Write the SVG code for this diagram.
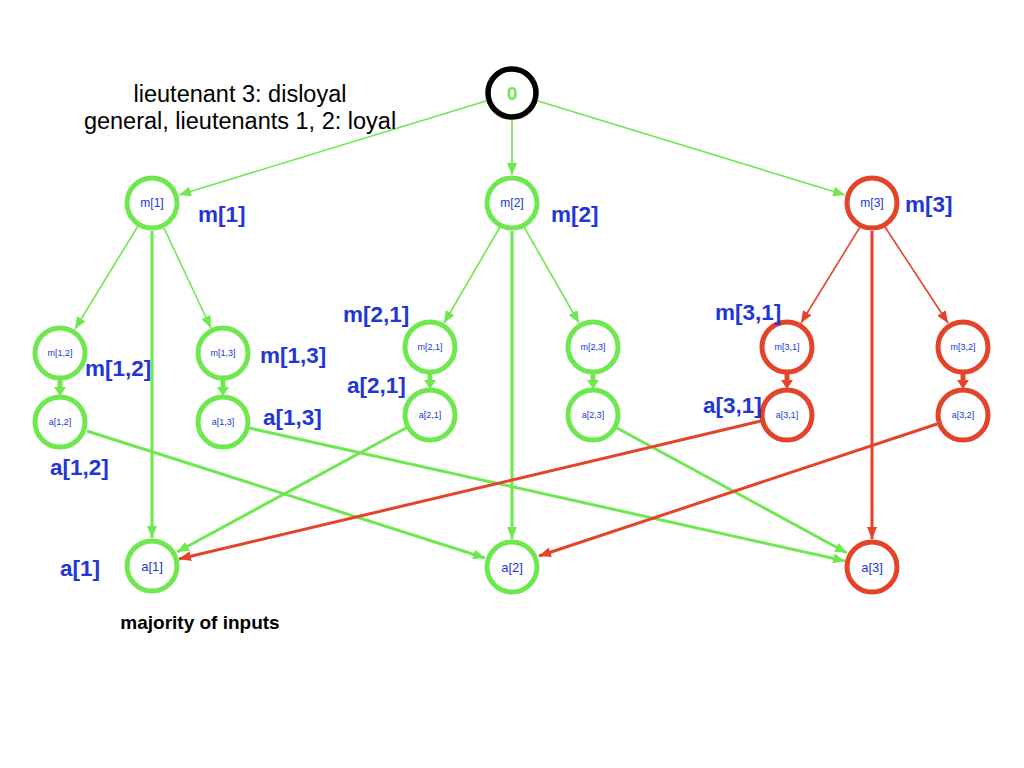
<svg xmlns="http://www.w3.org/2000/svg" width="1024" height="768" viewBox="0 0 1024 768">
<style>
.g{fill:#fff;stroke:#6fe84f;stroke-width:5}
.r{fill:#fff;stroke:#e4432a;stroke-width:5}
.k{fill:#fff;stroke:#000;stroke-width:5.5}
.t{font-family:"Liberation Sans",Arial,sans-serif;fill:#2236d8;text-anchor:middle}
.s{font-size:12px}
.xs{font-size:9px}
.lab{font-family:"Liberation Sans",Arial,sans-serif;font-weight:bold;font-size:22.5px;fill:#2236d8}
.eg{stroke:#6fe84f;fill:none;stroke-width:1.6}
.er{stroke:#e4432a;fill:none;stroke-width:1.6}
.eg3{stroke:#6fe84f;fill:none;stroke-width:3}
.er3{stroke:#e4432a;fill:none;stroke-width:3}
.ng{stroke:#6fe84f;stroke-width:5}
.nr{stroke:#e4432a;stroke-width:5}
.eg,.eg3{marker-end:url(#ag)}
.er,.er3{marker-end:url(#ar)}
</style>
<defs>
<marker id="ag" markerUnits="userSpaceOnUse" viewBox="0 0 12 10" refX="12" refY="5" markerWidth="12" markerHeight="10" orient="auto"><path d="M0,0 L12,5 L0,10 Z" fill="#6fe84f"/></marker>
<marker id="ar" markerUnits="userSpaceOnUse" viewBox="0 0 12 10" refX="12" refY="5" markerWidth="12" markerHeight="10" orient="auto"><path d="M0,0 L12,5 L0,10 Z" fill="#e4432a"/></marker>
</defs>
<rect width="1024" height="768" fill="#fff"/>
<g id="connectors">
<line class="eg" x1="486" y1="101" x2="179" y2="195"/>
<line class="eg" x1="512" y1="120" x2="512" y2="175"/>
<line class="eg" x1="538" y1="101" x2="845" y2="195"/>
<line class="eg" x1="138" y1="226" x2="75" y2="329"/>
<line class="eg" x1="164" y1="228" x2="211" y2="328"/>
<line class="eg3" x1="152" y1="231" x2="152" y2="538"/>
<line class="eg" x1="500" y1="227" x2="444" y2="323"/>
<line class="eg" x1="524" y1="227" x2="579" y2="323"/>
<line class="eg3" x1="512" y1="231" x2="512" y2="539"/>
<line class="er" x1="860" y1="227" x2="801" y2="323"/>
<line class="er" x1="885" y1="227" x2="948" y2="323"/>
<line class="er3" x1="872" y1="231" x2="872" y2="539"/>
<path class="ng" d="M60,378 V390"/><path d="M54,387 L66,387 L60,396 Z" fill="#6fe84f"/>
<path class="ng" d="M223,378 V390"/><path d="M217,387 L229,387 L223,396 Z" fill="#6fe84f"/>
<path class="ng" d="M430,372 V383"/><path d="M424,380 L436,380 L430,389 Z" fill="#6fe84f"/>
<path class="ng" d="M593,372 V383"/><path d="M587,380 L599,380 L593,389 Z" fill="#6fe84f"/>
<path class="nr" d="M787,372 V383"/><path d="M781,380 L793,380 L787,389 Z" fill="#e4432a"/>
<path class="nr" d="M963,372 V383"/><path d="M957,380 L969,380 L963,389 Z" fill="#e4432a"/>
<line class="eg3" x1="87" y1="431" x2="485" y2="558"/>
<line class="eg3" x1="249" y1="428" x2="845" y2="561"/>
<line class="eg3" x1="406" y1="428" x2="177" y2="552"/>
<line class="eg3" x1="617" y1="428" x2="847" y2="553"/>
<line class="er3" x1="761" y1="421" x2="179" y2="559"/>
<line class="er3" x1="937" y1="424" x2="539" y2="556"/>
</g>
<g id="n0"><circle class="k" cx="512" cy="93" r="24"/><text x="512" y="100" font-family="Liberation Sans,Arial,sans-serif" font-weight="bold" font-size="19" fill="#6fe84f" text-anchor="middle">0</text></g>
<g id="m1"><circle class="g" cx="152" cy="203" r="25"/><text class="t s" x="152" y="207">m[1]</text></g>
<g id="m2"><circle class="g" cx="512" cy="203" r="25"/><text class="t s" x="512" y="207">m[2]</text></g>
<g id="m3"><circle class="r" cx="872" cy="203" r="25"/><text class="t s" x="872" y="207">m[3]</text></g>
<g id="m12"><circle class="g" cx="60" cy="353" r="25"/><text class="t xs" x="60" y="356">m[1,2]</text></g>
<g id="a12"><circle class="g" cx="60" cy="422" r="25"/><text class="t xs" x="60" y="425">a[1,2]</text></g>
<g id="m13"><circle class="g" cx="223" cy="353" r="25"/><text class="t xs" x="223" y="356">m[1,3]</text></g>
<g id="a13"><circle class="g" cx="223" cy="422" r="25"/><text class="t xs" x="223" y="425">a[1,3]</text></g>
<g id="m21"><circle class="g" cx="430" cy="347" r="25"/><text class="t xs" x="430" y="350">m[2,1]</text></g>
<g id="a21"><circle class="g" cx="430" cy="415" r="25"/><text class="t xs" x="430" y="418">a[2,1]</text></g>
<g id="m23"><circle class="g" cx="593" cy="347" r="25"/><text class="t xs" x="593" y="350">m[2,3]</text></g>
<g id="a23"><circle class="g" cx="593" cy="415" r="25"/><text class="t xs" x="593" y="418">a[2,3]</text></g>
<g id="m31"><circle class="r" cx="787" cy="347" r="25"/><text class="t xs" x="787" y="350">m[3,1]</text></g>
<g id="a31"><circle class="r" cx="787" cy="415" r="25"/><text class="t xs" x="787" y="418">a[3,1]</text></g>
<g id="m32"><circle class="r" cx="963" cy="347" r="25"/><text class="t xs" x="963" y="350">m[3,2]</text></g>
<g id="a32"><circle class="r" cx="963" cy="415" r="25"/><text class="t xs" x="963" y="418">a[3,2]</text></g>
<g id="a1"><circle class="g" cx="152" cy="566" r="25"/><text class="t" font-size="13" x="152" y="571">a[1]</text></g>
<g id="a2"><circle class="g" cx="512" cy="567" r="25"/><text class="t" font-size="13" x="512" y="572">a[2]</text></g>
<g id="a3"><circle class="r" cx="872" cy="567" r="25"/><text class="t" font-size="13" x="872" y="572">a[3]</text></g>
<g id="labels">
<text class="lab" x="198" y="222">m[1]</text>
<text class="lab" x="551" y="222">m[2]</text>
<text class="lab" x="905" y="212">m[3]</text>
<text class="lab" x="85" y="376">m[1,2]</text>
<text class="lab" x="260" y="363">m[1,3]</text>
<text class="lab" x="263" y="425">a[1,3]</text>
<text class="lab" x="50" y="475">a[1,2]</text>
<text class="lab" x="343" y="322">m[2,1]</text>
<text class="lab" x="347" y="393">a[2,1]</text>
<text class="lab" x="715" y="320">m[3,1]</text>
<text class="lab" x="703" y="413">a[3,1]</text>
<text class="lab" x="60" y="576">a[1]</text>
<text x="200" y="629" font-family="Liberation Sans,Arial,sans-serif" font-weight="bold" font-size="19" fill="#000" text-anchor="middle">majority of inputs</text>
<text x="240" y="102" font-family="Liberation Sans,Arial,sans-serif" font-size="23.5" fill="#000" text-anchor="middle">lieutenant 3: disloyal</text>
<text x="240" y="129" font-family="Liberation Sans,Arial,sans-serif" font-size="23.5" fill="#000" text-anchor="middle">general, lieutenants 1, 2: loyal</text>
</g>
</svg>
